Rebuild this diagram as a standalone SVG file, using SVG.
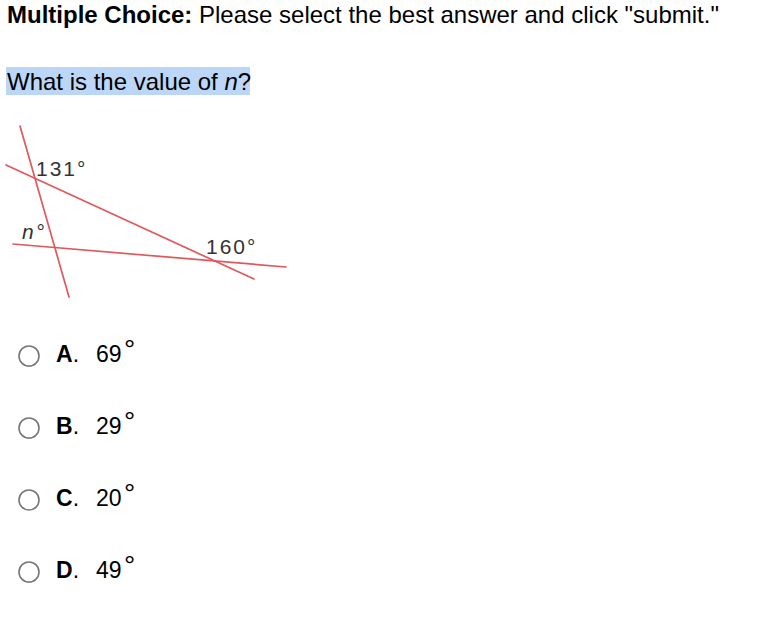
<svg xmlns="http://www.w3.org/2000/svg" width="772" height="640" viewBox="0 0 772 640">
<style>
.t{font-family:"Liberation Sans",Arial,sans-serif;fill:#000}
.lbl{font-family:"Liberation Sans",Arial,sans-serif;fill:#333;font-size:21px;letter-spacing:2px}
.ln{stroke:#e0585c;stroke-width:1.7;fill:none;stroke-linecap:round}
.radio{fill:#fff;stroke:#777;stroke-width:1.6}
.opt{font-family:"Liberation Sans",Arial,sans-serif;font-size:23px;fill:#000}
.deg{font-family:"Liberation Sans",Arial,sans-serif;font-size:28px;fill:#000}
</style>
<rect width="772" height="640" fill="#fff"/>
<g id="header">
<text class="t" x="7" y="23" font-size="24"><tspan font-weight="bold">Multiple Choice:</tspan> Please select the best answer and click "submit."</text>
</g>
<g id="question">
<rect x="6" y="67" width="244" height="28" fill="#bcd6f7"/>
<text class="t" x="7" y="90" font-size="24">What is the value of <tspan font-style="italic">n</tspan>?</text>
</g>
<g id="connectors">
<line class="ln" x1="20" y1="126" x2="69" y2="297"/>
<line class="ln" x1="6" y1="165" x2="254" y2="279"/>
<line class="ln" x1="13" y1="244" x2="286" y2="267"/>
</g>
<g id="labels">
<text class="lbl" x="36" y="176">131°</text>
<text class="lbl" x="206" y="254">160°</text>
<text class="lbl" x="22" y="239" font-style="italic" font-size="18" letter-spacing="1">n°</text>
</g>
<g id="optA">
<circle class="radio" cx="29" cy="356" r="10"/>
<text class="opt" x="56" y="362" font-weight="bold">A<tspan font-weight="normal">.</tspan></text>
<text class="opt" x="96" y="362">69</text>
<text class="deg" x="124" y="359">°</text>
</g>
<g id="optB">
<circle class="radio" cx="29" cy="428" r="10"/>
<text class="opt" x="56" y="434" font-weight="bold">B<tspan font-weight="normal">.</tspan></text>
<text class="opt" x="96" y="434">29</text>
<text class="deg" x="124" y="431">°</text>
</g>
<g id="optC">
<circle class="radio" cx="29" cy="500" r="10"/>
<text class="opt" x="56" y="506" font-weight="bold">C<tspan font-weight="normal">.</tspan></text>
<text class="opt" x="96" y="506">20</text>
<text class="deg" x="124" y="503">°</text>
</g>
<g id="optD">
<circle class="radio" cx="29" cy="572" r="10"/>
<text class="opt" x="56" y="578" font-weight="bold">D<tspan font-weight="normal">.</tspan></text>
<text class="opt" x="96" y="578">49</text>
<text class="deg" x="124" y="575">°</text>
</g>
</svg>
